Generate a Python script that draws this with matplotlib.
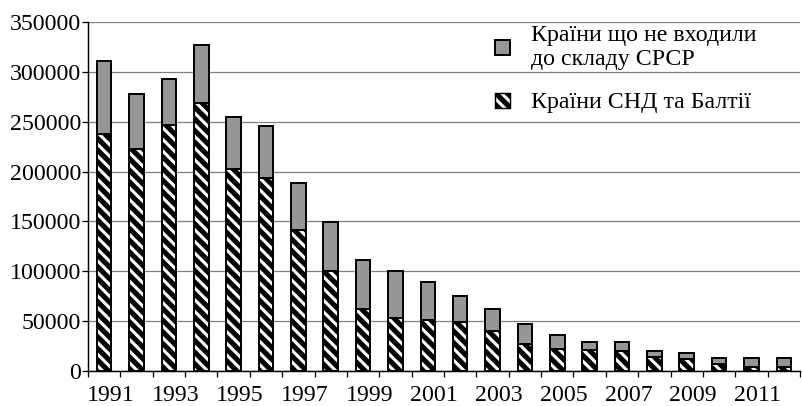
import numpy as np
import matplotlib
matplotlib.use("Agg")
import matplotlib.pyplot as plt
from matplotlib.patches import Patch

# values
years = list(range(1991, 2013))
total = [311000, 278000, 293000, 327000, 255000, 246000, 189000, 149000,
         111000, 100000, 89000, 75000, 62000, 47000, 36000, 29000,
         29000, 20000, 18000, 13000, 13500, 13500]
cis_baltic = [238000, 223000, 247000, 269000, 203000, 194000, 141000, 100000,
              62000, 53000, 51000, 49000, 40000, 27000, 22000, 21000,
              20000, 14000, 12000, 7500, 4000, 4000]
other = [t - c for t, c in zip(total, cis_baltic)]

label_other = "Країни що не входили\nдо складу СРСР"
label_cis = "Країни СНД та Балтії"

# dpi 70 so that the hatch spacing matches the stripes of the original
DPI = 70
plt.rcParams['font.family'] = ['Liberation Serif', 'DejaVu Serif']
plt.rcParams['hatch.color'] = 'white'
plt.rcParams['hatch.linewidth'] = 3.2
fs = 24.5
HATCH = '\\\\'

fig = plt.figure(figsize=(802 / DPI, 406 / DPI), dpi=DPI)
ax = fig.add_axes([88 / 802, 35 / 406, 712 / 802, 349 / 406])

x = np.arange(len(years))
w = 0.45

# hatched part: black base, white stripes, black outline on top
ax.bar(x, cis_baltic, w, color='black', linewidth=0, zorder=3)
ax.bar(x, cis_baltic, w, facecolor='none', hatch=HATCH, linewidth=0, zorder=3)
ax.bar(x, cis_baltic, w, facecolor='none', edgecolor='black', linewidth=2, zorder=4)
ax.bar(x, other, w, bottom=cis_baltic, color='#969696', edgecolor='black', linewidth=2, zorder=4)

ax.set_xlim(-0.5, len(years) - 0.5)
ax.set_ylim(0, 350000)
ax.set_yticks(np.arange(0, 350001, 50000))
ax.yaxis.grid(True, color='#808080', linewidth=1.3, zorder=0)
ax.set_axisbelow(True)

# labels every other year, ticks at category borders
ax.set_xticks(x[::2] + 0.2)
ax.set_xticklabels([str(y) for y in years[::2]])
ax.set_xticks(np.arange(-0.5, len(years), 1.0), minor=True)
ax.tick_params(axis='x', which='major', length=0, pad=14, labelsize=fs)
ax.tick_params(axis='x', which='minor', length=6, width=1.3, direction='out')
ax.tick_params(axis='y', length=6, width=1.3, pad=1, labelsize=fs)

for s in ['top', 'right']:
    ax.spines[s].set_visible(False)
ax.spines['left'].set_linewidth(1.5)
ax.spines['bottom'].set_linewidth(1.5)

h_other = Patch(facecolor='#969696', edgecolor='black', linewidth=2)
h_base = Patch(facecolor='black', linewidth=0)
h_hatch = Patch(facecolor='none', hatch=HATCH, linewidth=0)
h_edge = Patch(facecolor='none', edgecolor='black', linewidth=1.5)
ax.legend([h_other, (h_base, h_hatch, h_edge)], [label_other, label_cis],
          loc='upper left', bbox_to_anchor=(0.572, 0.991), frameon=False,
          fontsize=fs, handlelength=0.6, handleheight=0.6, handletextpad=0.9,
          labelspacing=0.93, borderpad=0, borderaxespad=0)

fig.savefig('out.png', dpi=DPI)
